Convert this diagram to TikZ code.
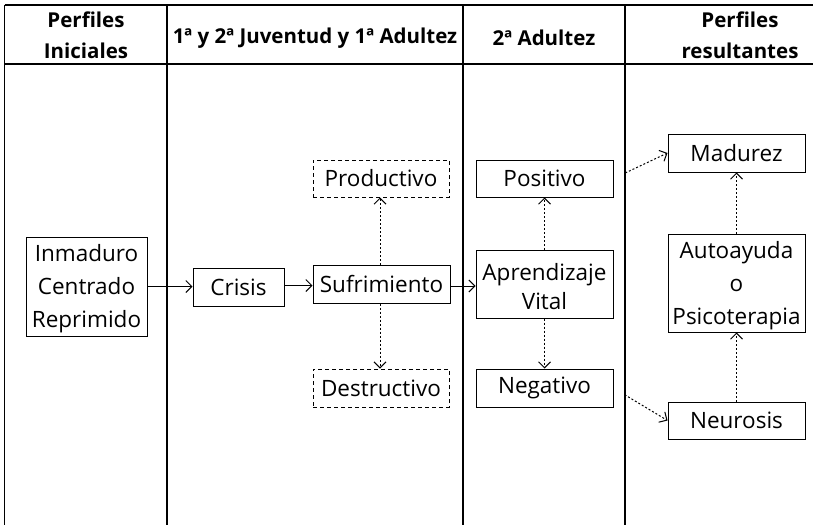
\documentclass[tikz,border=0pt]{standalone}
\usepackage{fontspec}
\setmainfont{Open Sans}
\usetikzlibrary{arrows.meta}
\newcommand{\topstrut}{\rule{0pt}{22pt}}
\begin{document}
\begin{tikzpicture}[x=1pt,y=-1pt,
  box/.style={draw,line width=1pt,align=center,inner sep=0pt,
    minimum width=137pt,minimum height=38pt,font=\fontsize{22.5}{33}\selectfont},
  dbox/.style={box,dash pattern=on 4pt off 3pt},
  head/.style={align=center,font=\fontsize{20.5}{31}\selectfont\bfseries},
  rule/.style={line width=1.4pt},
  arr/.style={line width=1pt,-{Straight Barb[length=6pt,width=12pt]}},
  darr/.style={arr,dash pattern=on 2pt off 2pt}]
\useasboundingbox (0,0) rectangle (813,525);
% table
\coordinate (tl) at (4.5,5);
\coordinate (tr) at (813,5);
\coordinate (hl) at (4.5,64);
\coordinate (hr) at (813,64);
\draw[rule] (tl) -- (tr);
\draw[rule] (hl) -- (hr);
\foreach \x/\n in {4.5/a,167/b,463/c,625/d}{
  \coordinate (top\n) at (\x,5);
  \coordinate (bot\n) at (\x,525);
  \draw[rule] (top\n) -- (bot\n);
}
% headers
\node[head] (h1) at (86,35) {Perfiles\\Iniciales};
\node[head] (h2) at (315,38) {1ª y 2ª Juventud y 1ª Adultez};
\node[head] (h3) at (544,38) {2ª Adultez};
\node[head] (h4) at (740,35) {Perfiles\\resultantes};
% nodes
\node[box,minimum width=121pt,minimum height=99pt] (ini) at (86.5,286.5) {\topstrut Inmaduro\\Centrado\\Reprimido};
\node[box,minimum width=91pt] (cri) at (238.5,287) {Crisis};
\node[box] (suf) at (381.5,284) {Sufrimiento};
\node[dbox,minimum width=136pt,minimum height=37pt] (pro) at (381,178.5) {Productivo};
\node[dbox,minimum width=136pt] (des) at (381,388) {Destructivo};
\node[box,minimum height=37pt] (pos) at (544.5,178.5) {Positivo};
\node[box,minimum height=68pt,font=\fontsize{22.5}{29}\selectfont] (apr) at (544.5,284) {\topstrut Aprendizaje\\Vital};
\node[box] (neg) at (544.5,388) {Negativo};
\node[box] (mad) at (736.5,153) {Madurez};
\node[box,minimum height=98pt] (aut) at (736.5,283) {\topstrut Autoayuda\\o\\Psicoterapia};
\node[box,minimum height=37pt] (neu) at (736.5,420.5) {Neurosis};
% connectors
\draw[arr] (ini.east) -- (ini.east -| cri.west);
\draw[arr] (cri.east |- 0,285.5) -- (suf.west |- 0,285.5);
\draw[arr] (suf.east |- 0,286) -- (apr.west |- 0,286);
\draw[darr] (suf.north -| 380,0) -- (pro.south -| 380,0);
\draw[darr] (suf.south -| 380,0) -- (des.north -| 380,0);
\draw[darr] (apr.north) -- (pos.south);
\draw[darr] (apr.south) -- (neg.north);
\draw[darr] (neu.north) -- (aut.south);
\draw[darr] (aut.north) -- (mad.south);
\draw[darr,shorten <=13pt] (pos.east) -- (mad.west);
\draw[darr,shorten <=13pt] (neg.east) -- (neu.west);
\end{tikzpicture}
\end{document}
